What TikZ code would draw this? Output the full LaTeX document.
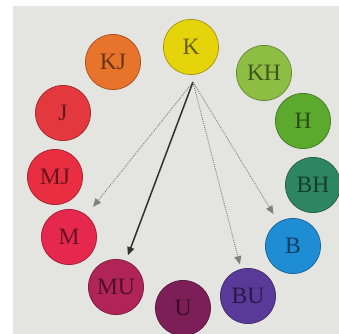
\documentclass[tikz,border=0pt]{standalone}
\usepackage{fontspec}
\setmainfont{Liberation Serif}
\usetikzlibrary{arrows.meta}

\definecolor{paper}{HTML}{E4E4E0}
\definecolor{cK}{HTML}{E6D40A}
\definecolor{cKH}{HTML}{8DBE43}
\definecolor{cH}{HTML}{5BAA2E}
\definecolor{cBH}{HTML}{2E8660}
\definecolor{cB}{HTML}{1F8DD4}
\definecolor{cBU}{HTML}{5A3A98}
\definecolor{cU}{HTML}{7C1F58}
\definecolor{cMU}{HTML}{B02457}
\definecolor{cM}{HTML}{E6284F}
\definecolor{cMJ}{HTML}{E82E40}
\definecolor{cJ}{HTML}{E2383E}
\definecolor{cKJ}{HTML}{E8732A}

\begin{document}
\begin{tikzpicture}
  [x = 0.85pt, y = -0.85pt, >= {Triangle[length = 7pt, width = 6pt]},
   hue/.style = {circle, fill = #1, draw = #1!70!black, line width = 0.6pt,
     minimum size = 47pt, inner sep = 0pt, text = black, text opacity = 0.55,
     font = \fontsize{20}{20}\selectfont}]
  \useasboundingbox (0,0) rectangle (339,334);
  \fill[paper] (13,6) rectangle (339,334);
  \node[hue = cK] (K) at (191,47) {K};
  \node[hue = cKH] (KH) at (264,73) {KH};
  \node[hue = cH] (H) at (303,121) {H};
  \node[hue = cBH] (BH) at (313,185) {BH};
  \node[hue = cB] (B) at (293,246) {B};
  \node[hue = cBU] (BU) at (248,296) {BU};
  \node[hue = cU] (U) at (183,308) {U};
  \node[hue = cMU] (MU) at (116,287) {MU};
  \node[hue = cM] (M) at (69,237) {M};
  \node[hue = cMJ] (MJ) at (55,177) {MJ};
  \node[hue = cJ] (J) at (63,113) {J};
  \node[hue = cKJ] (KJ) at (113,62) {KJ};
  \coordinate (src) at (193,82);
  \draw[->, densely dotted, black!50, line width = 0.8pt, shorten > = 9pt] (src) -- (M);
  \draw[->, black!80, line width = 1.3pt, shorten > = 5pt] (src) -- (MU);
  \draw[->, densely dotted, black!50, line width = 0.8pt, shorten > = 4pt] (src) -- (BU);
  \draw[->, densely dotted, black!50, line width = 0.8pt, shorten > = 8pt] (src) -- (B);
\end{tikzpicture}
\end{document}
